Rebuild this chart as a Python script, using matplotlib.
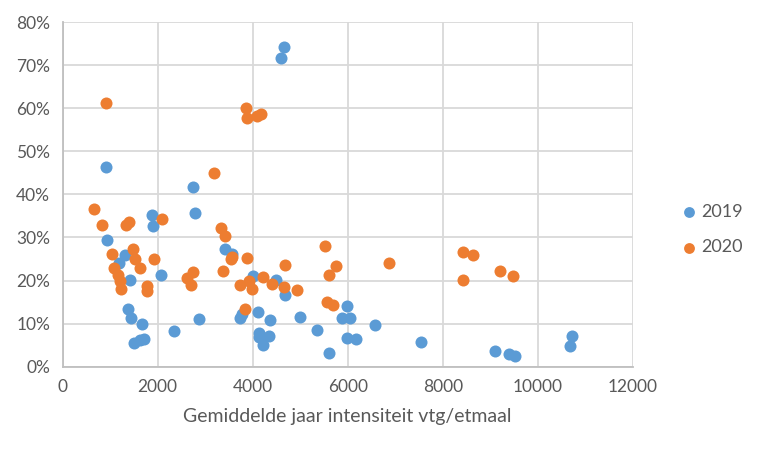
import numpy as np
import matplotlib
matplotlib.use("Agg")
import matplotlib.pyplot as plt
from matplotlib.ticker import FuncFormatter

# 2019 series: intensity (vtg/etmaal), share
x_2019 = [4659, 4589, 911, 2737, 2779, 1880, 1901, 933, 3410, 3564,
          1312, 1192, 1417, 2069, 4000, 4491, 4680, 1375, 1432, 1663,
          2337, 2869, 3739, 3775, 4105, 4358, 4996, 5347, 1501, 1627,
          1718, 4126, 4139, 4349, 4223, 5985, 5874, 6048, 6575, 5606,
          5985, 6181, 7537, 9095, 9389, 9522, 10722, 10680]
y_2019 = [74.2, 71.6, 46.3, 41.8, 35.7, 35.1, 32.6, 29.3, 27.3, 26.1,
          26.0, 24.0, 20.2, 21.2, 21.1, 20.2, 16.6, 13.5, 11.4, 9.9,
          8.4, 11.1, 11.4, 12.2, 12.6, 10.9, 11.6, 8.5, 5.6, 6.2,
          6.4, 7.9, 6.8, 7.2, 5.0, 14.0, 11.2, 11.2, 9.8, 3.1,
          6.7, 6.4, 5.8, 3.7, 3.0, 2.5, 7.2, 4.7]

# 2020 series
x_2020 = [911, 3859, 3887, 4084, 4175, 3179, 652, 821, 1326, 1396,
          2084, 3326, 3410, 1032, 1474, 1522, 1627, 1916, 1080, 1171,
          1213, 1221, 1768, 1768, 3537, 3564, 3874, 2737, 2611, 2701,
          3368, 3733, 3922, 3985, 4211, 4406, 4680, 4666, 4926, 3838,
          5522, 5747, 5606, 6863, 8421, 8638, 8421, 9200, 9474, 5558,
          5684]
y_2020 = [61.2, 60.0, 57.8, 58.1, 58.7, 44.9, 36.7, 32.8, 32.8, 33.5,
          34.3, 32.1, 30.4, 26.2, 27.4, 25.0, 23.0, 25.1, 22.9, 21.3,
          19.8, 18.1, 18.8, 17.6, 25.0, 25.4, 25.3, 22.0, 20.6, 19.0,
          22.3, 18.9, 19.9, 18.1, 20.8, 19.3, 23.7, 18.6, 17.8, 13.5,
          28.1, 23.4, 21.3, 24.1, 26.7, 26.0, 20.2, 22.3, 21.1, 15.1,
          14.4]

blue = "#5B9BD5"
orange = "#ED7D31"
text_col = "#595959"

plt.rcParams['font.family'] = ['Lato', 'DejaVu Sans']

fig = plt.figure(figsize=(7.62, 4.59), dpi=100)
ax = fig.add_axes([0.0823, 0.201, 0.748, 0.751])

ax.scatter(np.array(x_2019), np.array(y_2019) / 100, s=75, color=blue,
           label="2019", zorder=3, linewidths=0)
ax.scatter(np.array(x_2020), np.array(y_2020) / 100, s=75, color=orange,
           label="2020", zorder=4, linewidths=0)

ax.set_xlim(0, 12000)
ax.set_ylim(0, 0.8)
ax.set_xticks(np.arange(0, 12001, 2000))
ax.set_yticks(np.arange(0, 0.81, 0.1))
ax.yaxis.set_major_formatter(FuncFormatter(lambda v, p: f"{v*100:.0f}%"))

ax.grid(True, color="#D9D9D9", linewidth=1.3, zorder=0)
ax.set_axisbelow(True)
for side in ["top", "right"]:
    ax.spines[side].set_visible(False)
for side in ["left", "bottom"]:
    ax.spines[side].set_color("#BFBFBF")
    ax.spines[side].set_linewidth(1.3)

ax.tick_params(length=0, labelsize=12.5, colors=text_col, pad=9)
ax.set_xlabel("Gemiddelde jaar intensiteit vtg/etmaal", fontsize=14,
              color=text_col, labelpad=9)

leg = fig.legend(loc="center", bbox_to_anchor=(0.935, 0.5), frameon=False,
                 fontsize=13, handlelength=0.8, handletextpad=0.3,
                 labelspacing=1.1, markerscale=0.9)
for t in leg.get_texts():
    t.set_color(text_col)

fig.savefig("out.png", dpi=100)
